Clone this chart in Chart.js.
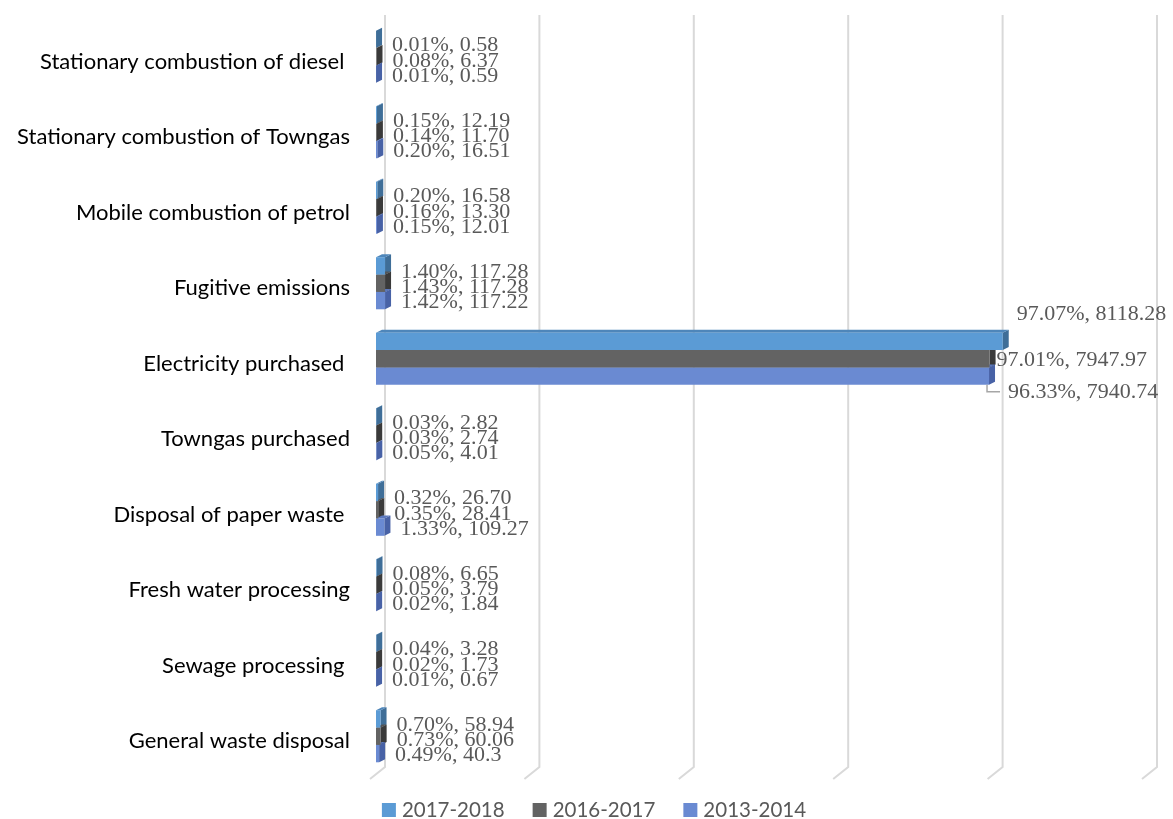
<!DOCTYPE html>
<html>
<head>
<meta charset="utf-8">
<script src="https://cdn.jsdelivr.net/npm/chart.js@4"></script>
<style>
html,body{margin:0;padding:0;background:#fff;}
#wrap{width:1173px;height:819px;position:relative;}
</style>
</head>
<body>
<div id="wrap"><canvas id="c" width="1173" height="819"></canvas></div>
<script>
// ---- data ----
const categories = [
  "Stationary combustion of diesel ",
  "Stationary combustion of Towngas",
  "Mobile combustion of petrol",
  "Fugitive emissions",
  "Electricity purchased ",
  "Towngas purchased",
  "Disposal of paper waste ",
  "Fresh water processing",
  "Sewage processing ",
  "General waste disposal"
];
const seriesNames = ["2017-2018", "2016-2017", "2013-2014"];
const values2017 = ["0.58", "12.19", "16.58", "117.28", "8118.28", "2.82", "26.70", "6.65", "3.28", "58.94"];
const pct2017    = ["0.01", "0.15", "0.20", "1.40", "97.07", "0.03", "0.32", "0.08", "0.04", "0.70"];
const values2016 = ["6.37", "11.70", "13.30", "117.28", "7947.97", "2.74", "28.41", "3.79", "1.73", "60.06"];
const pct2016    = ["0.08", "0.14", "0.16", "1.43", "97.01", "0.03", "0.35", "0.05", "0.02", "0.73"];
const values2013 = ["0.59", "16.51", "12.01", "117.22", "7940.74", "4.01", "109.27", "1.84", "0.67", "40.3"];
const pct2013    = ["0.01", "0.20", "0.15", "1.42", "96.33", "0.05", "1.33", "0.02", "0.01", "0.49"];
const axisMax = 10000;
const axisStep = 2000;

// ---- styles ----
const frontColors = ["#5B9BD5", "#636363", "#6A8AD2"];
const topColors   = ["#4E86BA", "#555555", "#5B78BE"];
const sideColors  = ["#3F6E98", "#3A3A3A", "#4862A6"];
const pctSets = [pct2017, pct2016, pct2013];
const valSets = [values2017, values2016, values2013];

const DX = 6, DY = 3;       // bar depth
const WALL = 9;             // back wall offset
const GRID_TOP = 15, GRID_BOTTOM = 767, FLOOR_DX = -15, FLOOR_DY = 12;

const threeD = {
  id: 'threeD',
  beforeDatasetsDraw(chart) {
    const ctx = chart.ctx;
    const xs = chart.scales.x;
    ctx.save();
    ctx.strokeStyle = '#D9D9D9';
    ctx.lineWidth = 2;
    for (let v = 0; v <= axisMax; v += axisStep) {
      const px = xs.getPixelForValue(v) + WALL;
      ctx.beginPath();
      ctx.moveTo(px, GRID_TOP);
      ctx.lineTo(px, GRID_BOTTOM);
      ctx.lineTo(px + FLOOR_DX, GRID_BOTTOM + FLOOR_DY);
      ctx.stroke();
    }
    chart.data.datasets.forEach((ds, di) => {
      const meta = chart.getDatasetMeta(di);
      meta.data.forEach(el => {
        const p = el.getProps(['x', 'y', 'base', 'height'], true);
        const left = Math.min(p.base, p.x), right = Math.max(p.base, p.x);
        const top = p.y - p.height / 2, bottom = p.y + p.height / 2;
        ctx.fillStyle = sideColors[di];
        ctx.beginPath();
        ctx.moveTo(right, top);
        ctx.lineTo(right + DX, top - DY);
        ctx.lineTo(right + DX, bottom - DY);
        ctx.lineTo(right, bottom);
        ctx.closePath();
        ctx.fill();
        ctx.fillStyle = topColors[di];
        ctx.beginPath();
        ctx.moveTo(left, top);
        ctx.lineTo(left + DX, top - DY);
        ctx.lineTo(right + DX, top - DY);
        ctx.lineTo(right, top);
        ctx.closePath();
        ctx.fill();
      });
    });
    ctx.restore();
  },
  afterDatasetsDraw(chart) {
    const ctx = chart.ctx;
    ctx.save();
    ctx.font = '22px "Liberation Serif", "Times New Roman", serif';
    ctx.fillStyle = '#595959';
    ctx.textBaseline = 'middle';
    ctx.textAlign = 'left';
    let maxIdx = 0;
    values2017.forEach((v, i) => { if (+v > +values2017[maxIdx]) maxIdx = i; });
    const yShift = [6, 4, 2];
    chart.data.datasets.forEach((ds, di) => {
      const meta = chart.getDatasetMeta(di);
      meta.data.forEach((el, i) => {
        const p = el.getProps(['x', 'y', 'base', 'height'], true);
        const right = Math.max(p.base, p.x);
        const top = p.y - p.height / 2, bottom = p.y + p.height / 2;
        const txt = pctSets[di][i] + '%, ' + valSets[di][i];
        if (i === maxIdx) {
          if (di === 0) {
            ctx.fillText(txt, right + 14, top - 18);
          } else if (di === 1) {
            ctx.fillText(txt, right + 7, p.y + 1);
          } else {
            ctx.save();
            ctx.strokeStyle = '#A6A6A6';
            ctx.lineWidth = 1.5;
            ctx.beginPath();
            ctx.moveTo(right - 2, bottom);
            ctx.lineTo(right - 2, bottom + 7);
            ctx.lineTo(right + 11, bottom + 7);
            ctx.stroke();
            ctx.restore();
            ctx.fillText(txt, right + 19, bottom + 7);
          }
        } else {
          ctx.fillText(txt, right + 16, p.y + yShift[di]);
        }
      });
    });
    ctx.restore();
  },
  afterDraw(chart) {
    const ctx = chart.ctx;
    ctx.save();
    ctx.font = '20.5px Lato, "Open Sans", sans-serif';
    ctx.textBaseline = 'middle';
    const box = 14, gapText = 6, gapItem = 28;
    const widths = seriesNames.map(n => ctx.measureText(n).width);
    const total = widths.reduce((a, w) => a + box + gapText + w, 0) + gapItem * (seriesNames.length - 1);
    let x = 594 - total / 2;
    const y = 810;
    seriesNames.forEach((n, i) => {
      ctx.fillStyle = frontColors[i];
      ctx.fillRect(x, y - box / 2, box, box);
      ctx.fillStyle = '#595959';
      ctx.fillText(n, x + box + gapText, y);
      x += box + gapText + widths[i] + gapItem;
    });
    ctx.restore();
  }
};

const datasets = seriesNames.map((name, i) => ({
  label: name,
  data: valSets[i],
  backgroundColor: frontColors[i],
  borderWidth: 0
}));

new Chart(document.getElementById('c'), {
  type: 'bar',
  data: { labels: categories, datasets },
  options: {
    indexAxis: 'y',
    responsive: false,
    animation: false,
    layout: { padding: { top: 19, right: 25, bottom: 45, left: 0 } },
    datasets: { bar: { categoryPercentage: 0.69, barPercentage: 1.0 } },
    plugins: { legend: { display: false }, tooltip: { enabled: false } },
    scales: {
      x: { display: false, min: 0, max: axisMax, ticks: { stepSize: axisStep } },
      y: {
        grid: { display: false, drawTicks: false },
        border: { display: false },
        ticks: {
          color: '#000000',
          padding: 26,
          labelOffset: 5,
          font: { family: 'Lato, "Open Sans", sans-serif', size: 22 }
        },
        afterFit(scale) {
          scale.width = 376;
          scale.paddingTop = 0;
          scale.paddingBottom = 0;
        }
      }
    }
  },
  plugins: [threeD]
});
</script>
</body>
</html>
